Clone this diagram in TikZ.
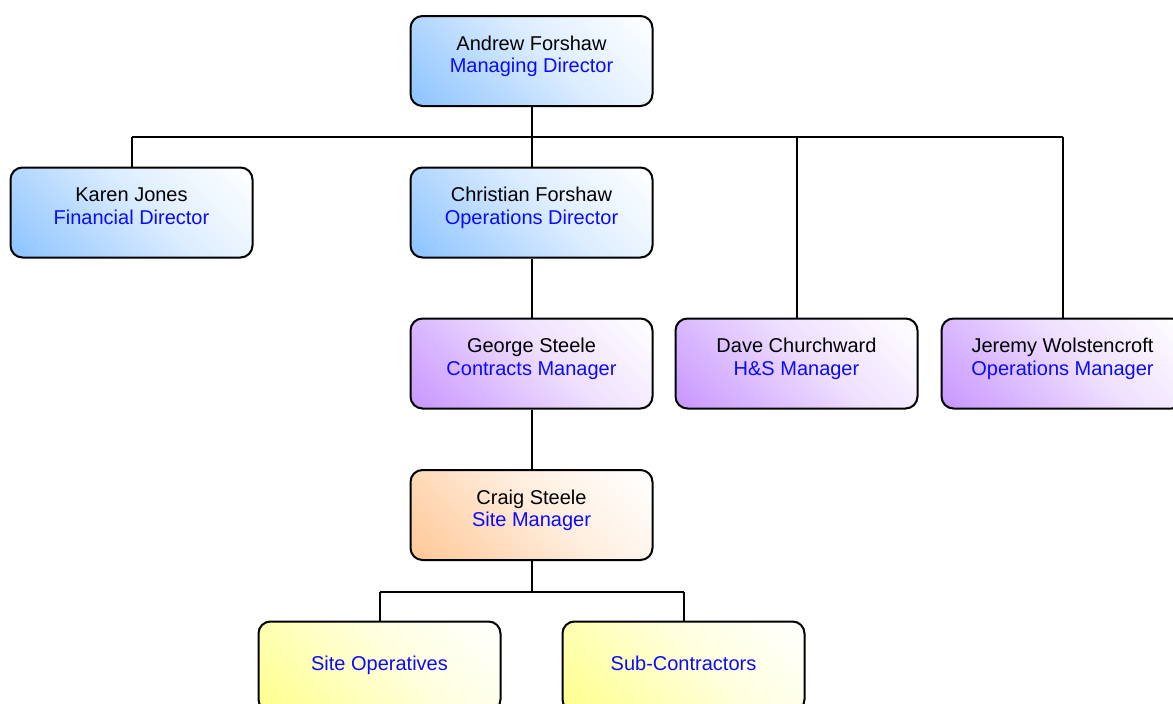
\documentclass[tikz,border=0pt]{standalone}
\usepackage{fontspec}
\setmainfont{Liberation Sans}
\definecolor{cblue}{RGB}{140,195,255}
\definecolor{cpurple}{RGB}{200,150,255}
\definecolor{corange}{RGB}{255,200,150}
\definecolor{cyellow}{RGB}{255,255,140}
\definecolor{rolecol}{RGB}{10,10,255}
\newcommand{\mkshade}[2]{%
  \pgfdeclareverticalshading{#1}{100bp}{color(0bp)=(#2); color(15bp)=(#2);
    color(38bp)=(#2!60!white); color(55bp)=(#2!30!white); color(85bp)=(white); color(100bp)=(white)}}
\mkshade{diagblue}{cblue}
\mkshade{diagpurple}{cpurple}
\mkshade{diagorange}{corange}
\mkshade{diagyellow}{cyellow}
\tikzset{
  box/.style={draw=black, line width=2pt, rounded corners=12pt,
    minimum width=242pt, minimum height=90pt, align=center,
    font=\fontsize{20}{22.5}\selectfont, text=black, inner sep=0pt},
  shadebox/.style={box, shading=#1, shading angle=-45},
  bluebox/.style={shadebox=diagblue},
  purplebox/.style={shadebox=diagpurple},
  orangebox/.style={shadebox=diagorange},
  yellowbox/.style={shadebox=diagyellow},
  link/.style={draw=black, line width=2pt},
}
\newcommand{\role}[1]{\textcolor{rolecol}{#1}}
\newcommand{\card}[2]{\raisebox{-1pt}[0pt][0pt]{\begin{tabular}{@{}c@{}}#1\\\role{#2}\end{tabular}}}
\newcommand{\single}[1]{\raisebox{-4pt}[0pt][0pt]{\role{#1}}}
\begin{document}
\begin{tikzpicture}[x=1pt,y=-1pt]
\useasboundingbox (0,0) rectangle (1173,704);
\clip (0,0) rectangle (1173,704);
\fill[white] (0,0) rectangle (1173,704);
% nodes
\node[bluebox] (andrew) at (531.5,61) {\card{Andrew Forshaw}{Managing Director}};
\node[bluebox] (karen) at (131.5,212.5) {\card{Karen Jones}{Financial Director}};
\node[bluebox] (christian) at (531.5,212.5) {\card{Christian Forshaw}{Operations Director}};
\node[purplebox] (george) at (531.5,363.5) {\card{George Steele}{Contracts Manager}};
\node[purplebox] (dave) at (796.5,363.5) {\card{Dave Churchward}{H\&S Manager}};
\node[purplebox] (jeremy) at (1062.5,363.5) {\card{Jeremy Wolstencroft}{Operations Manager}};
\node[orangebox] (craig) at (531.5,515) {\card{Craig Steele}{Site Manager}};
\node[yellowbox] (ops) at (379.5,666.5) {\single{Site Operatives}};
\node[yellowbox] (sub) at (683.5,666.5) {\single{Sub-Contractors}};
% connectors
\coordinate (bus) at (531.5,137);
\coordinate (busL) at (131.5,137);
\coordinate (busR) at (1062.5,137);
\coordinate (bus2) at (531.5,592);
\coordinate (bus2L) at (379.5,592);
\coordinate (bus2R) at (683.5,592);
\draw[link] (andrew.south) -- (bus);
\draw[link] (busL) -- (busR);
\draw[link] (busL) -- (karen.north);
\draw[link] (bus) -- (christian.north);
\draw[link] (dave.north) -- (dave.north |- bus);
\draw[link] (busR) -- (jeremy.north);
\draw[link] (christian.south) -- (george.north);
\draw[link] (george.south) -- (craig.north);
\draw[link] (craig.south) -- (bus2);
\draw[link] (bus2L) -- (bus2R);
\draw[link] (bus2L) -- (ops.north);
\draw[link] (bus2R) -- (sub.north);
\end{tikzpicture}
\end{document}
